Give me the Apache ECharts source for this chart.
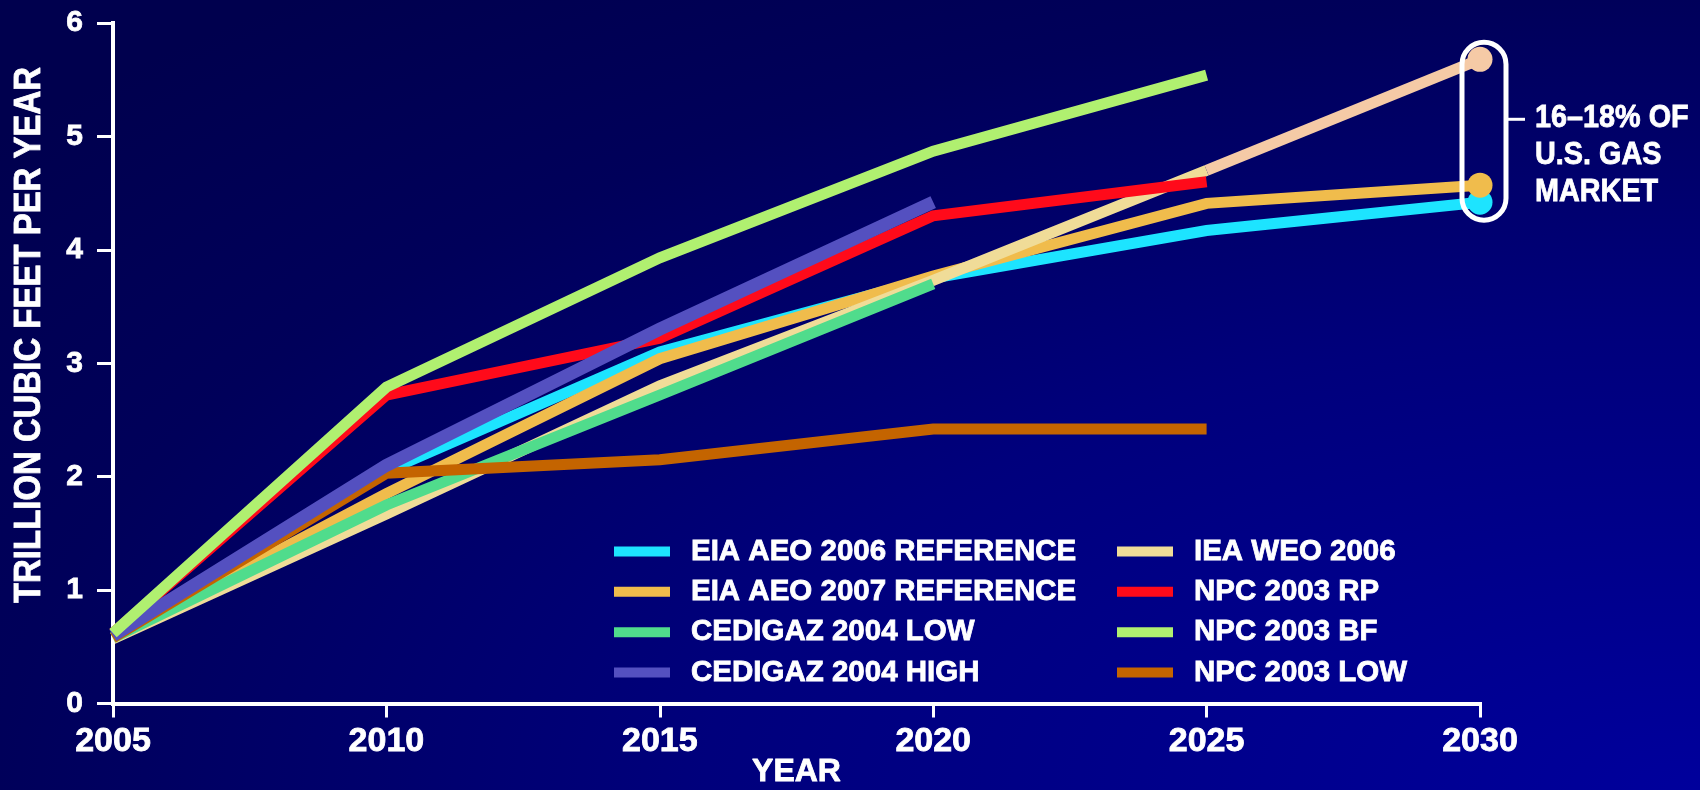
<!DOCTYPE html>
<html>
<head>
<meta charset="utf-8">
<title>Gas demand outlooks</title>
<script src="https://cdn.jsdelivr.net/npm/echarts@6/dist/echarts.min.js"></script>
<style>
  html, body { margin: 0; padding: 0; background: #000058; }
  #chart { width: 1700px; height: 790px; }
</style>
</head>
<body>
<div id="chart"></div>
<script>
// Projection years and tick values
const years = [2005, 2010, 2015, 2020, 2025, 2030];
const yTicks = [0, 1, 2, 3, 4, 5, 6];

// Trillion cubic feet per year, one array per outlook (null = not projected)
const eiaAeo2006 = [0.58, 2.05, 3.10, 3.75, 4.17, 4.42];
const eiaAeo2007 = [0.58, 1.85, 3.04, 3.77, 4.41, 4.57];
const cedigazLow = [0.58, 1.75, 2.72, 3.70, null, null];
const cedigazHigh = [0.60, 2.10, 3.30, 4.42, null, null];
const ieaWeo2006 = [0.57, 1.67, 2.80, 3.73, 4.70, 5.68];
const npcRp = [0.62, 2.72, 3.22, 4.30, 4.60, null];
const npcBf = [0.62, 2.79, 3.93, 4.87, 5.54, null];
const npcLow = [0.58, 2.03, 2.15, 2.42, 2.42, null];

// Legend columns
const legendLeft = ['EIA AEO 2006 REFERENCE', 'EIA AEO 2007 REFERENCE', 'CEDIGAZ 2004 LOW', 'CEDIGAZ 2004 HIGH'];
const legendRight = ['IEA WEO 2006', 'NPC 2003 RP', 'NPC 2003 BF', 'NPC 2003 LOW'];

// Texts
const yTitle = 'TRILLION CUBIC FEET PER YEAR';
const xTitle = 'YEAR';
const noteLines = ['16\u201318% OF', 'U.S. GAS', 'MARKET'];

const FONT = '"Liberation Sans", Arial, Helvetica, sans-serif';
const INK = { textBorderColor: '#ffffff', textBorderWidth: 0.8 };

// Build [year, value] pairs between two indexes, skipping gaps;
// the 2030 point gets a round end marker when requested.
function pairs(vals, from, to, endDot) {
  const out = [];
  for (let i = from; i <= to; i++) {
    if (vals[i] == null) continue;
    if (endDot && i === years.length - 1) {
      out.push({ value: [years[i], vals[i]], symbol: 'circle', symbolSize: 25 });
    } else {
      out.push([years[i], vals[i]]);
    }
  }
  return out;
}

function line(name, color, data, width, z) {
  return {
    type: 'line',
    name: name,
    data: data,
    color: color,
    symbol: 'none',
    showSymbol: true,
    lineStyle: { width: width, color: color, cap: 'butt', join: 'miter' },
    itemStyle: { color: color },
    emphasis: { disabled: true },
    z: z
  };
}

const last = years.length - 1;
const series = [
  line('EIA AEO 2006 REFERENCE', '#1de4ff', pairs(eiaAeo2006, 0, last, true), 11, 2),
  line('EIA AEO 2007 REFERENCE', '#f0bc4c', pairs(eiaAeo2007, 0, last, true), 11, 3),
  line('IEA WEO 2006', '#f0dc98', pairs(ieaWeo2006, 0, last - 1, false), 11, 4),
  line('IEA WEO 2006 \u2192 2030', '#f5caa6', pairs(ieaWeo2006, last - 1, last, true), 11, 4),
  line('CEDIGAZ 2004 LOW', '#50dc8c', pairs(cedigazLow, 0, last, false), 11, 5),
  line('NPC 2003 LOW', '#c46400', pairs(npcLow, 0, last, false), 11, 6),
  line('NPC 2003 RP', '#ff0a1a', pairs(npcRp, 0, last, false), 11, 7),
  line('CEDIGAZ 2004 HIGH', '#5450c0', pairs(cedigazHigh, 0, last, false), 13, 8),
  line('NPC 2003 BF', '#b0f070', pairs(npcBf, 0, last, false), 11, 9)
];

function legendBlock(names, left) {
  return {
    data: names,
    left: left,
    top: 536,
    orient: 'vertical',
    padding: 0,
    icon: 'rect',
    itemWidth: 56,
    itemHeight: 10,
    itemGap: 9.6,
    selectedMode: false,
    textStyle: Object.assign({
      color: '#ffffff',
      fontFamily: FONT,
      fontWeight: 'bold',
      fontSize: 29.5,
      lineHeight: 30,
      padding: [0, 0, 0, 16]
    }, INK)
  };
}

const chart = echarts.init(document.getElementById('chart'), null, { renderer: 'canvas' });

chart.setOption({
  animation: false,
  backgroundColor: '#000058',
  textStyle: { fontFamily: FONT },
  grid: { left: 113, right: 220, top: 23, bottom: 86.5, containLabel: false, outerBoundsMode: 'none' },
  legend: [legendBlock(legendLeft, 614), legendBlock(legendRight, 1117)],
  xAxis: {
    type: 'value',
    min: years[0],
    max: years[last],
    interval: years[1] - years[0],
    splitLine: { show: false },
    axisLine: { show: true, lineStyle: { color: '#ffffff', width: 4, cap: 'square' } },
    axisTick: { show: true, inside: false, length: 14, lineStyle: { color: '#ffffff', width: 3 } },
    axisLabel: Object.assign({
      color: '#ffffff', fontFamily: FONT, fontWeight: 'bold', fontSize: 34, margin: 21,
      formatter: v => String(v)
    }, INK)
  },
  yAxis: {
    type: 'value',
    min: yTicks[0],
    max: yTicks[yTicks.length - 1],
    interval: yTicks[1] - yTicks[0],
    splitLine: { show: false },
    axisLine: { show: true, lineStyle: { color: '#ffffff', width: 4, cap: 'square' } },
    axisTick: { show: true, inside: false, length: 16, lineStyle: { color: '#ffffff', width: 3 } },
    axisLabel: Object.assign({ color: '#ffffff', fontFamily: FONT, fontWeight: 'bold', fontSize: 30, margin: 30 }, INK)
  },
  series: series
});

// Annotation, axis titles and backdrop, placed from the axis scales
const px = (x, y) => chart.convertToPixel({ gridIndex: 0 }, [x, y]);
const endVals = [eiaAeo2006[last], eiaAeo2007[last], ieaWeo2006[last]];
const pTop = px(years[last], Math.max.apply(null, endVals));
const pBot = px(years[last], Math.min.apply(null, endVals));
const capX = pTop[0] + 4 - 22;
const capY = pTop[1] - 17;
const capH = (pBot[1] + 18) - capY;
const capRight = capX + 44;
const midX = px((years[0] + years[last]) / 2, 0)[0];
const axisMid = px(years[0], 0);

chart.setOption({
  graphic: [
    {
      type: 'rect', z: -100, silent: true,
      x: 0, y: 0, scaleX: 1700 / 790,
      shape: { x: 0, y: 0, width: 790, height: 790 },
      style: {
        fill: new echarts.graphic.RadialGradient(1, 1, 1.3, [
          { offset: 0, color: '#00009c' },
          { offset: 0.45, color: '#00007c' },
          { offset: 0.77, color: '#00005a' },
          { offset: 1, color: '#00004e' }
        ])
      }
    },
    {
      type: 'rect', z: 50, silent: true,
      shape: { x: capX, y: capY, width: 44, height: capH, r: 22 },
      style: { fill: null, stroke: '#ffffff', lineWidth: 5 }
    },
    {
      type: 'line', z: 50, silent: true,
      shape: { x1: capRight + 2, y1: capY + 77, x2: capRight + 19, y2: capY + 77 },
      style: { stroke: '#ffffff', lineWidth: 3 }
    },
    {
      type: 'text', z: 50, silent: true,
      x: capRight + 29, y: capY + 57, scaleX: 0.9,
      style: Object.assign({
        text: noteLines.join('\n'),
        fill: '#ffffff', font: 'bold 32px ' + FONT,
        lineHeight: 37.3, align: 'left', verticalAlign: 'top'
      }, { stroke: '#ffffff', lineWidth: 0.8 })
    },
    {
      type: 'text', z: 50, silent: true,
      x: 30, y: 335, rotation: Math.PI / 2, scaleX: 0.89,
      style: {
        text: yTitle, fill: '#ffffff', font: 'bold 37px ' + FONT,
        align: 'center', verticalAlign: 'middle',
        stroke: '#ffffff', lineWidth: 0.8
      }
    },
    {
      type: 'text', z: 50, silent: true,
      x: midX, y: axisMid[1] + 52.5,
      style: {
        text: xTitle, fill: '#ffffff', font: 'bold 32px ' + FONT,
        align: 'center', verticalAlign: 'top',
        stroke: '#ffffff', lineWidth: 0.8
      }
    }
  ]
});
</script>
</body>
</html>
